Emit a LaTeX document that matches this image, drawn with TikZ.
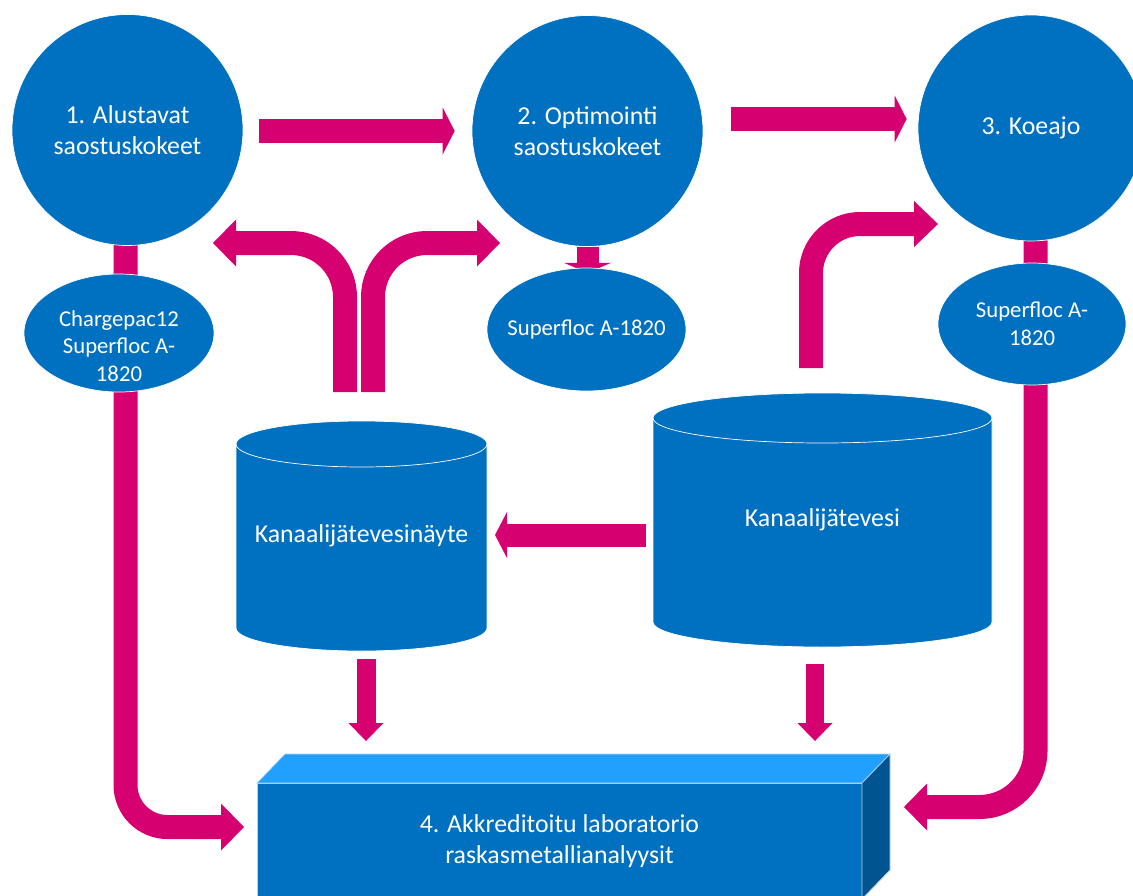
\documentclass[tikz,border=0pt]{standalone}
\usepackage{fontspec}
\setmainfont{Carlito}
\usetikzlibrary{arrows.meta,calc,shapes.geometric}
\definecolor{bl}{RGB}{0,112,192}
\definecolor{mg}{RGB}{214,0,112}
\definecolor{bltop}{RGB}{34,160,255}
\definecolor{blside}{RGB}{0,85,145}
\pgfdeclarelayer{back}
\pgfdeclarelayer{mid}
\pgfsetlayers{back,mid,main}
\begin{document}
\begin{tikzpicture}[x=1pt,y=1pt,
  shp/.style={fill=bl,draw=white,line width=0.7pt,text=white,inner sep=0pt},
  big/.style={font=\fontsize{25.8}{31}\selectfont,align=center,text=white},
  sml/.style={font=\fontsize{22.7}{27.5}\selectfont,align=center,text=white},
  pipe/.style={draw=mg,line width=24pt},
  bighead/.style={-{Triangle[width=47pt,length=23pt,line width=0pt]}},
  shorthead/.style={-{Triangle[width=47pt,length=12pt,line width=0pt]}},
  hold/.style={inner sep=0pt,outer sep=0pt}]
\useasboundingbox (0,0) rectangle (1133,-895);
\clip (0,0) rectangle (1133,-895);

% circles
\node[shp,circle,minimum size=231pt,big] (c1) at (127.5,-130) {1. Alustavat\\saostuskokeet};
\node[shp,circle,minimum size=231pt,big] (c2) at (587.5,-131) {2. Optimointi\\saostuskokeet};
\node[shp,circle,minimum size=226pt,big] (c3) at (1031,-128) {3. Koeajo};

% ellipses
\node[shp,ellipse,minimum width=190pt,minimum height=118pt] (e1) at (119,-333) {};
\node[sml] (t1) at (119,-346) {Chargepac12\\Superfloc A-\\1820};
\node[shp,ellipse,minimum width=199pt,minimum height=123pt] (e2) at (586.5,-329.5) {};
\node[sml] (t2) at (e2.center) {Superfloc A-1820};
\node[shp,ellipse,minimum width=188pt,minimum height=122pt] (e3) at (1032,-324) {};
\node[sml] (t3) at (e3.center) {Superfloc A-\\1820};

% cylinders
\node[hold,big,minimum width=251pt,minimum height=230pt] (cy1) at (361.5,-536) {Kanaalijätevesinäyte};
\node[hold,big,minimum width=339pt,minimum height=254pt] (cy2) at (822.5,-520) {Kanaalijätevesi};
\begin{pgfonlayer}{mid}
\fill[bl,draw=white,line width=0.7pt] ($(cy1.north west)+(0,-23)$) -- ($(cy1.south west)+(0,23)$)
  arc[start angle=180,end angle=360,x radius=125.5pt,y radius=23pt]
  -- ($(cy1.north east)+(0,-23)$)
  arc[start angle=0,end angle=180,x radius=125.5pt,y radius=23pt] -- cycle;
\draw[white,line width=0.7pt] ($(cy1.north west)+(0,-23)$) arc[start angle=180,end angle=360,x radius=125.5pt,y radius=23pt];
\fill[bl,draw=white,line width=0.7pt] ($(cy2.north west)+(0,-25)$) -- ($(cy2.south west)+(0,25)$)
  arc[start angle=180,end angle=360,x radius=169.5pt,y radius=25pt]
  -- ($(cy2.north east)+(0,-25)$)
  arc[start angle=0,end angle=180,x radius=169.5pt,y radius=25pt] -- cycle;
\draw[white,line width=0.7pt] ($(cy2.north west)+(0,-25)$) arc[start angle=180,end angle=360,x radius=169.5pt,y radius=25pt];
\end{pgfonlayer}

% laboratory box
\node[hold,big,minimum width=605pt,minimum height=116pt] (lab) at (559.5,-841) {4. Akkreditoitu laboratorio\\raskasmetallianalyysit};
\begin{pgfonlayer}{mid}
\fill[bl,draw=white!70!bl,line width=0.7pt] (lab.north west) rectangle (lab.south east);
\fill[bltop,draw=white!70!bl,line width=0.7pt] (lab.north west) -- ++(28,29) -- ($(lab.north east)+(28,29)$) -- (lab.north east) -- cycle;
\fill[blside,draw=white!70!bl,line width=0.7pt] (lab.north east) -- ++(28,29) -- ($(lab.south east)+(28,29)$) -- (lab.south east) -- cycle;
\end{pgfonlayer}

% connectors
\begin{pgfonlayer}{back}
\draw[pipe,shorthead] ($(c1.east)+(16,-1)$) -- ($(c2.west)+(-17,0)$);
\draw[pipe,shorthead] ($(c2.east)+(28,12)$) -- ($(c3.west)+(-11,9)$);
\draw[draw=mg,line width=22pt,-{Triangle[width=47pt,length=10pt,line width=0pt]}] (c2.south) -- ($(c2.south)+(0,-26)$);
\draw[pipe,bighead,rounded corners=42pt] ($(c1.south)+(-2,1)$) |- ($(lab.west)+(-13,14)$);
\draw[pipe,bighead,rounded corners=56pt] ($(c3.south)+(4.5,1)$) |- ($(lab.east)+(42,34)$);
\draw[pipe,bighead,rounded corners=54pt] ($(cy1.north)+(-16.5,29)$) |- ($(c1.center)+(85.5,-113)$);
\draw[pipe,bighead,rounded corners=54pt] ($(cy1.north)+(11.5,29)$) |- ($(c2.center)+(-87.5,-112)$);
\draw[draw=mg,line width=23pt,-{Triangle[width=46pt,length=12pt,line width=0pt]}] ($(cy2.west)+(-7,-15)$) -- ($(cy1.east)+(8,1)$);
\draw[draw=mg,line width=19pt,-{Triangle[width=35pt,length=18pt,line width=0pt]}] ($(cy1.south)+(4.5,-8)$) -- ($(cy1.south)+(4.5,-90)$);
\draw[draw=mg,line width=18pt,-{Triangle[width=35pt,length=18pt,line width=0pt]}] ($(cy2.south)+(-7.5,-17)$) -- ($(cy2.south)+(-7.5,-94)$);
\draw[pipe,-{Triangle[width=46pt,length=24pt,line width=0pt]},rounded corners=49pt] ($(cy2.north)+(-11.5,25)$) |- ($(c3.center)+(-93,-96)$);
\end{pgfonlayer}
\end{tikzpicture}
\end{document}
